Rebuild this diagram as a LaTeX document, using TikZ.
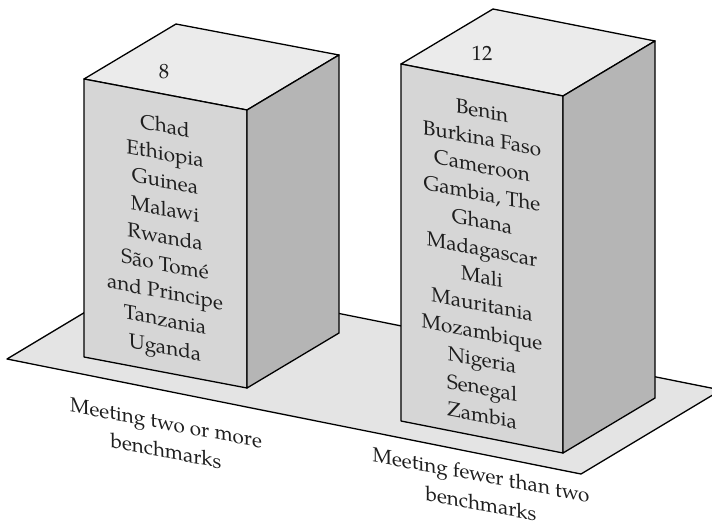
\documentclass[tikz,border=0pt]{standalone}
\usepackage{fontspec}
\setmainfont{TeX Gyre Pagella}
\definecolor{floorgray}{HTML}{E4E4E4}
\definecolor{topgray}{HTML}{EBEBEB}
\definecolor{frontgray}{HTML}{D6D6D6}
\definecolor{sidegray}{HTML}{B5B5B5}
\definecolor{inkgray}{HTML}{1E1E1E}
\begin{document}
\begin{tikzpicture}[x=1pt, y=-1pt, line join=round,
  edge/.style={draw=black, line width=1.3pt},
  facetext/.style={inner sep=0pt, align=center, text=inkgray, yslant=-0.19,
    font=\fontsize{20.6}{27.7}\selectfont},
  axislabel/.style={inner sep=0pt, align=center, text=inkgray, yslant=-0.19,
    font=\fontsize{20.6}{28.5}\selectfont},
  counttext/.style={inner sep=0pt, text=inkgray, font=\fontsize{20.6}{24}\selectfont}]
\useasboundingbox (0,0) rectangle (712,525);

% floor plane
\coordinate (fL) at (7,359);
\coordinate (fF) at (581,474);
\coordinate (fR) at (721,390);
\coordinate (fB) at (147,275);
\fill[floorgray] (fL) -- (fF) -- (fR) -- (fB) -- cycle;
\draw[edge] (fL) -- (fF) -- (fR) -- (fB) -- cycle;

% left column
\coordinate (a1) at (84,79);
\coordinate (b1) at (247,110);
\coordinate (c1) at (339,55);
\coordinate (d1) at (176,24);
\coordinate (a1b) at (84,357);
\coordinate (b1b) at (247,388);
\coordinate (c1b) at (339,333);
\filldraw[edge, fill=topgray] (a1) -- (b1) -- (c1) -- (d1) -- cycle;
\filldraw[edge, fill=frontgray] (a1) -- (b1) -- (b1b) -- (a1b) -- cycle;
\filldraw[edge, fill=sidegray] (b1) -- (c1) -- (c1b) -- (b1b) -- cycle;

% right column
\coordinate (a2) at (401,64);
\coordinate (b2) at (563,96);
\coordinate (c2) at (655,41);
\coordinate (d2) at (493,9);
\coordinate (a2b) at (401,421);
\coordinate (b2b) at (563,453);
\coordinate (c2b) at (655,398);
\filldraw[edge, fill=topgray] (a2) -- (b2) -- (c2) -- (d2) -- cycle;
\filldraw[edge, fill=frontgray] (a2) -- (b2) -- (b2b) -- (a2b) -- cycle;
\filldraw[edge, fill=sidegray] (b2) -- (c2) -- (c2b) -- (b2b) -- cycle;

% counts on the tops
\node[counttext] (count1) at (164,72) {8};
\node[counttext] (count2) at (482,53) {12};

% country lists on the front faces
\node[facetext] (list1) at (165,239) {Chad\\Ethiopia\\Guinea\\Malawi\\Rwanda\\São Tomé\\and Principe\\Tanzania\\Uganda};
\node[facetext] (list2) at (482,263) {Benin\\Burkina Faso\\Cameroon\\Gambia, The\\Ghana\\Madagascar\\Mali\\Mauritania\\Mozambique\\Nigeria\\Senegal\\Zambia};

% category labels on the floor
\node[axislabel] (cat1) at (166,437) {Meeting two or more\\benchmarks};
\node[axislabel] (cat2) at (481,489) {Meeting fewer than two\\benchmarks};
\end{tikzpicture}
\end{document}
